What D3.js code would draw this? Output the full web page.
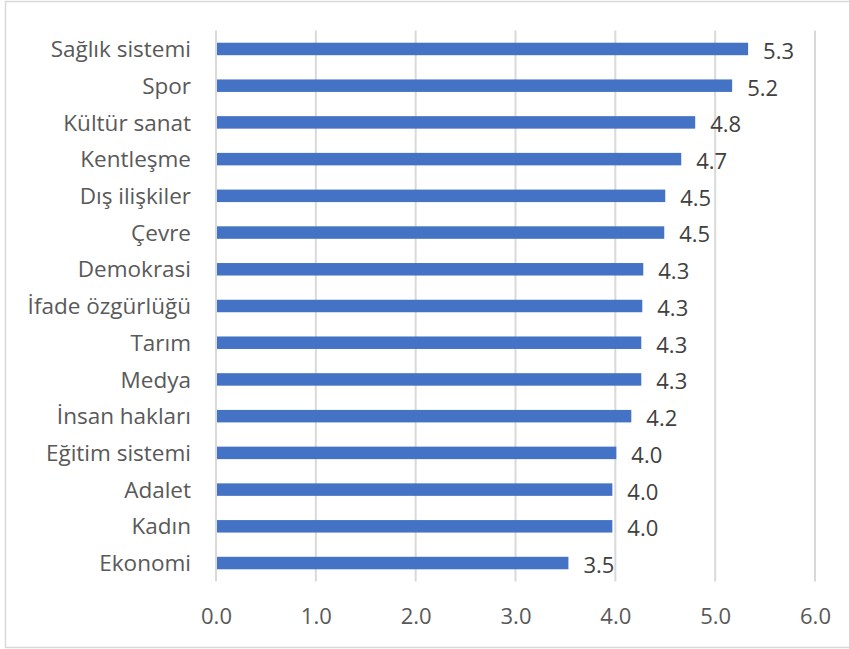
<!DOCTYPE html>
<html><head><meta charset="utf-8">
<script src="https://cdn.jsdelivr.net/npm/d3@7"></script>
<style>
html,body{margin:0;padding:0;background:#fff;}
svg{display:block;}
</style></head>
<body>
<svg id="chart" width="849" height="649"></svg>
<script>
const categories = ["Sağlık sistemi","Spor","Kültür sanat","Kentleşme","Dış ilişkiler","Çevre","Demokrasi","İfade özgürlüğü","Tarım","Medya","İnsan hakları","Eğitim sistemi","Adalet","Kadın ","Ekonomi"];
const values = [5.33,5.17,4.80,4.66,4.50,4.49,4.28,4.27,4.26,4.26,4.16,4.01,3.97,3.97,3.53];
const tickValues = [0,1,2,3,4,5,6];

const svg = d3.select("#chart");
const W = 849, H = 649;
const margin = {left:216, right:34, top:30.6, bottom:67.6};
const font = "'Open Sans', sans-serif";
const textColor = "#595959";

svg.append("rect").attr("x",5.5).attr("y",1.5).attr("width",W-4).attr("height",646)
  .attr("fill","#fff").attr("stroke","#d9d9d9").attr("stroke-width",1.5);

const x = d3.scaleLinear().domain([0,6]).range([margin.left, W-margin.right]);
const y = d3.scaleBand().domain(categories).range([margin.top, H-margin.bottom]).paddingInner(0.66).paddingOuter(0.33);

// gridlines
svg.append("g").selectAll("line").data(tickValues).join("line")
  .attr("x1",d=>x(d)).attr("x2",d=>x(d))
  .attr("y1",margin.top).attr("y2",H-margin.bottom)
  .attr("stroke","#d9d9d9").attr("stroke-width",2);

// bars
svg.append("g").selectAll("rect").data(values).join("rect")
  .attr("x",x(0)+1).attr("y",(d,i)=>y(categories[i]))
  .attr("width",d=>x(d)-x(0)-1).attr("height",y.bandwidth())
  .attr("fill","#4472c4");

// value labels
svg.append("g").selectAll("text").data(values).join("text")
  .attr("x",d=>x(d)+15).attr("y",(d,i)=>y(categories[i])+y.bandwidth()/2+2)
  .attr("dy","0.36em")
  .attr("font-family",font).attr("font-size",22).attr("fill","#404040")
  .text(d=>d.toFixed(1));

// category axis
const yAxis = d3.axisLeft(y).tickSize(0).tickPadding(25);
const gy = svg.append("g").attr("transform",`translate(${x(0)},0)`).call(yAxis);
gy.select(".domain").remove();
gy.selectAll("text").attr("font-family",font).attr("font-size",22.5).attr("fill",textColor).attr("dy","0.36em");

// x axis
const xAxis = d3.axisBottom(x).tickValues(tickValues).tickSize(0).tickPadding(27).tickFormat(d3.format(".1f"));
const gx = svg.append("g").attr("transform",`translate(0,${H-margin.bottom})`).call(xAxis);
gx.select(".domain").remove();
gx.selectAll("text").attr("font-family",font).attr("font-size",22).attr("fill",textColor);
</script>
</body></html>
